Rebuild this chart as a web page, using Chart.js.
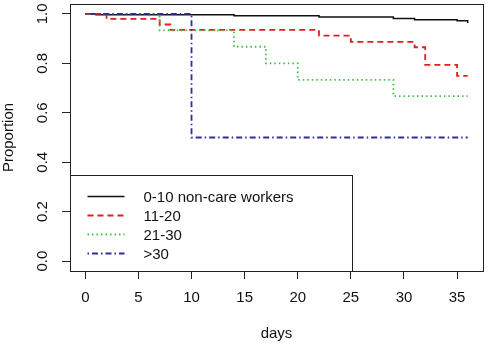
<!DOCTYPE html>
<html>
<head>
<meta charset="utf-8">
<script src="https://cdn.jsdelivr.net/npm/chart.js@4"></script>
<style>
  body { margin: 0; background: #fff; }
  canvas { display: block; }
</style>
</head>
<body>
<canvas id="graph" width="488" height="345"></canvas>
<script>
// Kaplan-Meier style step curves
const seriesNames = ['0-10 non-care workers', '11-20', '21-30', '>30'];

const daysA = [0, 1, 14, 22, 29, 31, 35, 36];
const propA = [1, 0.997, 0.992, 0.987, 0.981, 0.976, 0.972, 0.963];

const daysB = [0, 2, 7, 8, 22, 25, 31, 32, 35, 36];
const propB = [1, 0.98, 0.957, 0.935, 0.912, 0.887, 0.865, 0.794, 0.749, 0.749];

const daysC = [0, 7, 14, 17, 20, 29, 36];
const propC = [1, 0.933, 0.867, 0.8, 0.733, 0.667, 0.667];

const daysD = [0, 10, 36];
const propD = [1, 0.5, 0.5];

const xTicks = [0, 5, 10, 15, 20, 25, 30, 35];
const yTicks = [0, 0.2, 0.4, 0.6, 0.8, 1.0];

//---------------------------------------------
const FONT = { family: '"Liberation Sans", Arial, sans-serif', size: 15 };

function pts(xs, ys) {
  return xs.map((x, i) => ({ x: x, y: ys[i] }));
}

function line(idx, xs, ys, color, dash, width) {
  return {
    label: seriesNames[idx],
    data: pts(xs, ys),
    borderColor: color,
    borderDash: dash,
    borderWidth: width,
    stepped: 'before',
    pointRadius: 0,
    fill: false,
    order: 3 - idx
  };
}

// frame round the plot region, like R's box()
const boxPlugin = {
  id: 'box',
  afterDatasetsDraw(chart) {
    const { ctx, chartArea: a } = chart;
    ctx.save();
    ctx.strokeStyle = '#222';
    ctx.lineWidth = 1;
    ctx.strokeRect(Math.round(a.left) + 0.5, Math.round(a.top) + 0.5,
      Math.round(a.right - a.left), Math.round(a.bottom - a.top));
    ctx.restore();
  }
};

// bottom-left legend with a border
const legendPlugin = {
  id: 'rlegend',
  afterDatasetsDraw(chart) {
    const { ctx, chartArea: a } = chart;
    const w = 282, h = 96;
    const left = Math.round(a.left) + 0.5;
    const top = Math.round(a.bottom) - h + 0.5;
    ctx.save();
    ctx.fillStyle = '#fff';
    ctx.fillRect(left, top, w, h);
    ctx.strokeStyle = '#222';
    ctx.lineWidth = 1;
    ctx.strokeRect(left, top, w, h);
    ctx.font = FONT.size + 'px ' + FONT.family;
    ctx.textBaseline = 'middle';
    ctx.fillStyle = '#111';
    chart.data.datasets.forEach((ds, i) => {
      const y = top + 21 + i * 19;
      ctx.beginPath();
      ctx.setLineDash(ds.borderDash || []);
      ctx.strokeStyle = ds.borderColor;
      ctx.lineWidth = ds.borderWidth;
      ctx.moveTo(left + 17, y);
      ctx.lineTo(left + 54, y);
      ctx.stroke();
      ctx.setLineDash([]);
      ctx.fillText(ds.label, left + 73, y + 1);
    });
    ctx.restore();
  }
};

const cfg = {
  type: 'line',
  data: {
    datasets: [
      line(0, daysA, propA, '#111111', [], 1.5),
      line(1, daysB, propB, '#dd2020', [6, 4], 1.8),
      line(2, daysC, propC, '#3cbf3c', [1.5, 3], 1.8),
      line(3, daysD, propD, '#2e2e9e', [1.5, 3, 6, 3], 1.8)
    ]
  },
  options: {
    responsive: false,
    animation: false,
    layout: { padding: { top: 4, right: 5, left: 0, bottom: 0 } },
    plugins: { legend: { display: false }, tooltip: { enabled: false } },
    scales: {
      x: {
        type: 'linear',
        min: -1.44,
        max: 37.44,
        afterBuildTicks: s => { s.ticks = xTicks.map(v => ({ value: v })); },
        afterFit: s => { s.height = 74; s.paddingLeft = 0; s.paddingRight = 0; },
        grid: { display: true, drawOnChartArea: false, drawTicks: true, tickLength: 8, color: '#222' },
        border: { display: false },
        ticks: { font: FONT, color: '#111', padding: 10, maxRotation: 0, autoSkip: false },
        title: { display: true, text: 'days', font: FONT, color: '#111', padding: { top: 0, bottom: 2 } }
      },
      y: {
        type: 'linear',
        min: -0.04,
        max: 1.04,
        afterBuildTicks: s => { s.ticks = yTicks.map(v => ({ value: v })); },
        afterFit: s => { s.width = 70; s.paddingTop = 0; s.paddingBottom = 0; },
        grid: { display: true, drawOnChartArea: false, drawTicks: true, tickLength: 8, color: '#222' },
        border: { display: false },
        ticks: {
          font: FONT, color: '#111', padding: 9, minRotation: 90, maxRotation: 90,
          crossAlign: 'center', autoSkip: false,
          callback: v => v.toFixed(1)
        },
        title: { display: true, text: 'Proportion', font: FONT, color: '#111', padding: { top: 0, bottom: 0 } }
      }
    }
  },
  plugins: [boxPlugin, legendPlugin]
};

new Chart(document.getElementById('graph'), cfg);
</script>
</body>
</html>
